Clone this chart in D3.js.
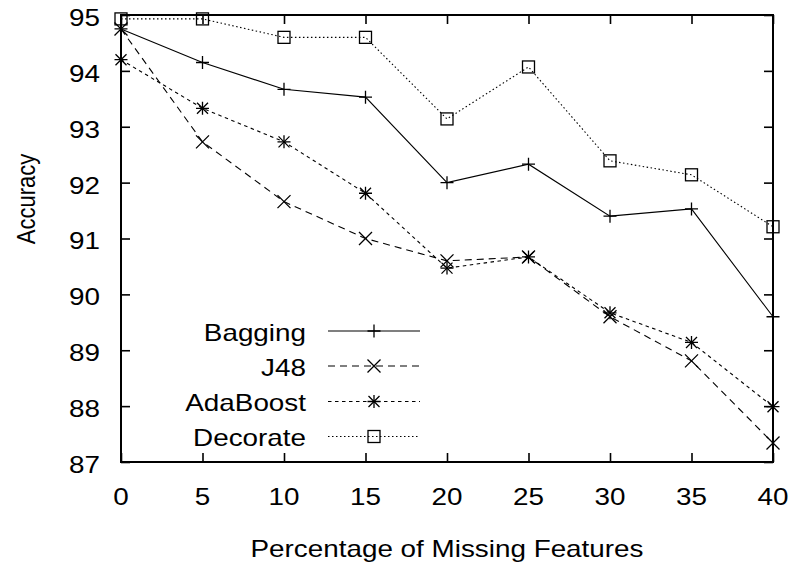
<!DOCTYPE html>
<html><head><meta charset="utf-8">
<script src="https://cdn.jsdelivr.net/npm/d3@7"></script>
<style>html,body{margin:0;padding:0;background:#fff;}svg{display:block;}</style>
</head><body>
<svg id="c" width="793" height="571"></svg>
<script>
const xValues = [0, 5, 10, 15, 20, 25, 30, 35, 40];
const bagging  = [94.75, 94.15, 93.67, 93.53, 92.0, 92.33, 91.40, 91.53, 89.60];
const j48      = [94.75, 92.73, 91.66, 91.0, 90.60, 90.67, 89.60, 88.81, 87.34];
const adaboost = [94.20, 93.33, 92.73, 91.81, 90.47, 90.67, 89.67, 89.14, 87.99];
const decorate = [94.93, 94.93, 94.60, 94.60, 93.14, 94.07, 92.39, 92.14, 91.21];
const seriesNames = ["Bagging", "J48", "AdaBoost", "Decorate"];
const xTicks = [0, 5, 10, 15, 20, 25, 30, 35, 40];
const yTicks = [87, 88, 89, 90, 91, 92, 93, 94, 95];

const FONT = "Liberation Sans, Arial, Helvetica, sans-serif";
const FS = 24;
const SX = 1.16; // horizontal stretch of the text
const svg = d3.select("#c");
const L = 121, R = 773, T = 15, B = 462;
const x = d3.scaleLinear().domain([0, 40]).range([L, R]);
const y = d3.scaleLinear().domain([87, 95]).range([B, T]);

const styles = [
  {data: bagging,  dash: null,  marker: "plus"},
  {data: j48,      dash: "7,5", marker: "cross"},
  {data: adaboost, dash: "3.5,3.5", marker: "star"},
  {data: decorate, dash: "1.5,2.5", marker: "square"}
];

function txt(px, py, s, anchor) {
  return svg.append("text")
    .attr("transform", `translate(${px},${py}) scale(${SX},1)`)
    .attr("dy", "0.35em").attr("text-anchor", anchor)
    .attr("font-family", FONT).attr("font-size", FS).attr("fill", "#000").text(s);
}

// axes with inward ticks (gnuplot style); labels drawn separately
const tickLen = 9;
const gx = svg.append("g").attr("transform", `translate(0,${B})`)
  .call(d3.axisBottom(x).tickValues(xTicks).tickSize(-tickLen).tickFormat(""));
const gxt = svg.append("g").attr("transform", `translate(0,${T})`)
  .call(d3.axisTop(x).tickValues(xTicks).tickSize(-tickLen).tickFormat(""));
const gy = svg.append("g").attr("transform", `translate(${L},0)`)
  .call(d3.axisLeft(y).tickValues(yTicks).tickSize(-tickLen).tickFormat(""));
const gyr = svg.append("g").attr("transform", `translate(${R},0)`)
  .call(d3.axisRight(y).tickValues(yTicks).tickSize(-tickLen).tickFormat(""));
[gx, gxt, gy, gyr].forEach(g => {
  g.select(".domain").remove();
  g.selectAll(".tick line").attr("stroke", "#000").attr("stroke-width", 1.6);
});
xTicks.forEach(t => txt(x(t), 497, d3.format("d")(t), "middle"));
yTicks.forEach(t => txt(100, y(t) + 2.5, d3.format("d")(t), "end"));

// border
svg.append("rect").attr("x", L).attr("y", T).attr("width", R - L).attr("height", B - T)
  .attr("fill", "none").attr("stroke", "#000").attr("stroke-width", 2);

function drawMarker(g, m, cx, cy) {
  const s = 6.5;
  if (m === "plus" || m === "star") {
    g.append("path").attr("d", `M${cx - s},${cy}H${cx + s}M${cx},${cy - s}V${cy + s}`);
  }
  if (m === "cross" || m === "star") {
    const k = m === "star" ? 5.5 : 6.5;
    g.append("path").attr("d", `M${cx - k},${cy - k}L${cx + k},${cy + k}M${cx - k},${cy + k}L${cx + k},${cy - k}`);
  }
  if (m === "square") {
    g.append("rect").attr("x", cx - 6).attr("y", cy - 6).attr("width", 12).attr("height", 12).attr("fill", "none");
  }
}

const line = d3.line().x((d, i) => x(xValues[i])).y(d => y(d));
styles.forEach(st => {
  svg.append("path").datum(st.data).attr("d", line).attr("fill", "none")
    .attr("stroke", "#000").attr("stroke-width", 1.1).attr("stroke-dasharray", st.dash);
  const g = svg.append("g").attr("stroke", "#000").attr("stroke-width", 1.3).attr("fill", "none");
  st.data.forEach((d, i) => drawMarker(g, st.marker, x(xValues[i]), y(d)));
});

// legend
const legY = [331, 366, 401.5, 436.5];
seriesNames.forEach((name, i) => {
  const ly = legY[i];
  txt(306, ly + 1.5, name, "end");
  svg.append("line").attr("x1", 328).attr("x2", 420).attr("y1", ly).attr("y2", ly)
    .attr("stroke", "#000").attr("stroke-width", 1.1).attr("stroke-dasharray", styles[i].dash);
  const g = svg.append("g").attr("stroke", "#000").attr("stroke-width", 1.3).attr("fill", "none");
  drawMarker(g, styles[i].marker, 374, ly);
});

// axis titles
txt((L + R) / 2, 549, "Percentage of Missing Features", "middle");
svg.append("text").attr("transform", `translate(26,199) scale(${SX},1) rotate(-90)`).attr("dy", "0.35em")
  .attr("text-anchor", "middle").attr("font-family", FONT).attr("font-size", 22).text("Accuracy");
</script>
</body></html>
